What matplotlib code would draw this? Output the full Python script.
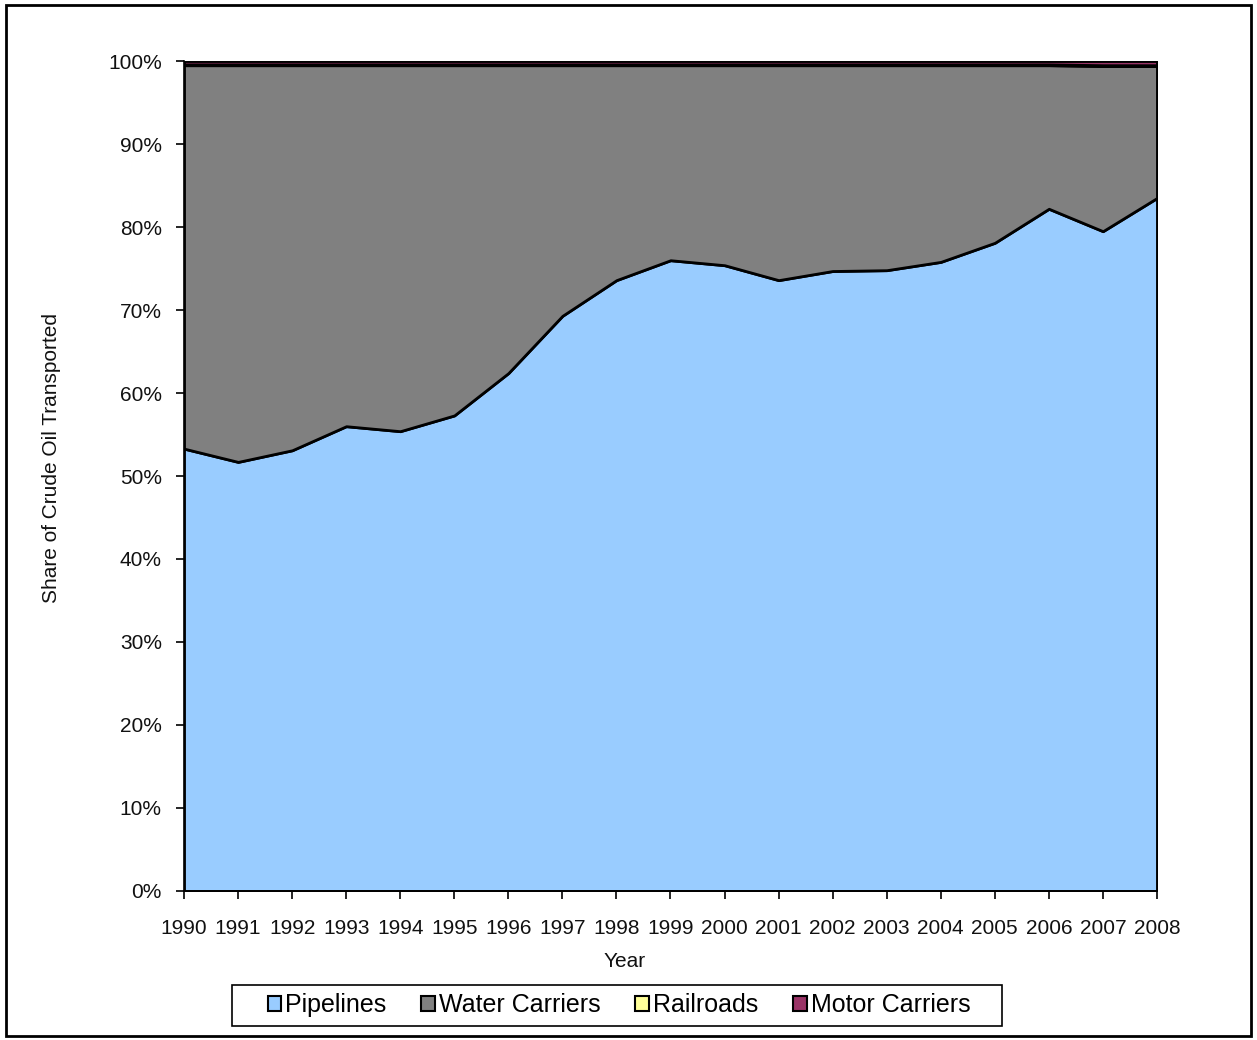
import matplotlib.pyplot as plt
from matplotlib.patches import Patch, Rectangle
from matplotlib.ticker import PercentFormatter
import numpy as np

plt.rcParams['font.family'] = ['Liberation Sans', 'DejaVu Sans']

years = list(range(1990, 2009))
pipelines = [53.3, 51.7, 53.1, 56.0, 55.4, 57.3, 62.4, 69.3, 73.6, 76.0,
             75.4, 73.6, 74.7, 74.8, 75.8, 78.1, 82.2, 79.5, 83.5]
water = [46.2, 47.8, 46.4, 43.5, 44.1, 42.2, 37.1, 30.2, 25.9, 23.5,
         24.1, 25.9, 24.8, 24.7, 23.7, 21.4, 17.3, 19.9, 15.9]
railroads = [0.1, 0.1, 0.1, 0.1, 0.1, 0.1, 0.1, 0.1, 0.1, 0.1,
             0.1, 0.1, 0.1, 0.1, 0.1, 0.1, 0.1, 0.1, 0.1]
motor = [0.4, 0.4, 0.4, 0.4, 0.4, 0.4, 0.4, 0.4, 0.4, 0.4,
         0.4, 0.4, 0.4, 0.4, 0.4, 0.4, 0.4, 0.5, 0.5]

labels = ['Pipelines', 'Water Carriers', 'Railroads', 'Motor Carriers']
colors = ['#99CCFF', '#808080', '#FFFF99', '#993366']

fig = plt.figure(figsize=(12.57, 10.40), dpi=100)
ax = fig.add_axes([0.1464, 0.1433, 0.774, 0.798])

ax.stackplot(years, pipelines, water, railroads, motor, colors=colors,
             edgecolor='black', linewidth=2)

ax.set_xlim(1990, 2008)
ax.set_ylim(0, 100)
ax.set_xticks(years)
ax.set_yticks(np.arange(0, 101, 10))
ax.yaxis.set_major_formatter(PercentFormatter(decimals=0))
ax.tick_params(labelsize=15, length=6, width=1.2, color='black', labelcolor='#111111')
ax.tick_params(axis='x', pad=14)
ax.tick_params(axis='y', pad=10)
for s in ['top', 'right']:
    ax.spines[s].set_visible(False)
for s in ['left', 'bottom']:
    ax.spines[s].set_linewidth(1.2)

ax.set_xlabel('Year', fontsize=15, color='#111111')
ax.xaxis.set_label_coords(0.453, -0.074)
ax.set_ylabel('Share of Crude Oil Transported', fontsize=15, color='#111111')
ax.yaxis.set_label_coords(-0.126, 0.522)

# legend box drawn separately so the inner padding matches the original
fig.patches.append(Rectangle((0.1846, 0.0135), 0.6126, 0.0394, transform=fig.transFigure,
                             facecolor='white', edgecolor='black', linewidth=1.2))
handles = [Patch(facecolor=c, edgecolor='black', linewidth=1.5) for c in colors]
leg = fig.legend(handles, labels, loc='center', bbox_to_anchor=(0.4924, 0.0332),
                 ncol=4, fontsize=18, frameon=False,
                 handlelength=0.55, handleheight=0.55, handletextpad=0.15,
                 columnspacing=1.4, borderpad=0.3, borderaxespad=0)

fig.patches.append(Rectangle((0.005, 0.004), 0.99, 0.991, transform=fig.transFigure,
                             fill=False, edgecolor='black', linewidth=2))

fig.savefig('out.png', dpi=100)
